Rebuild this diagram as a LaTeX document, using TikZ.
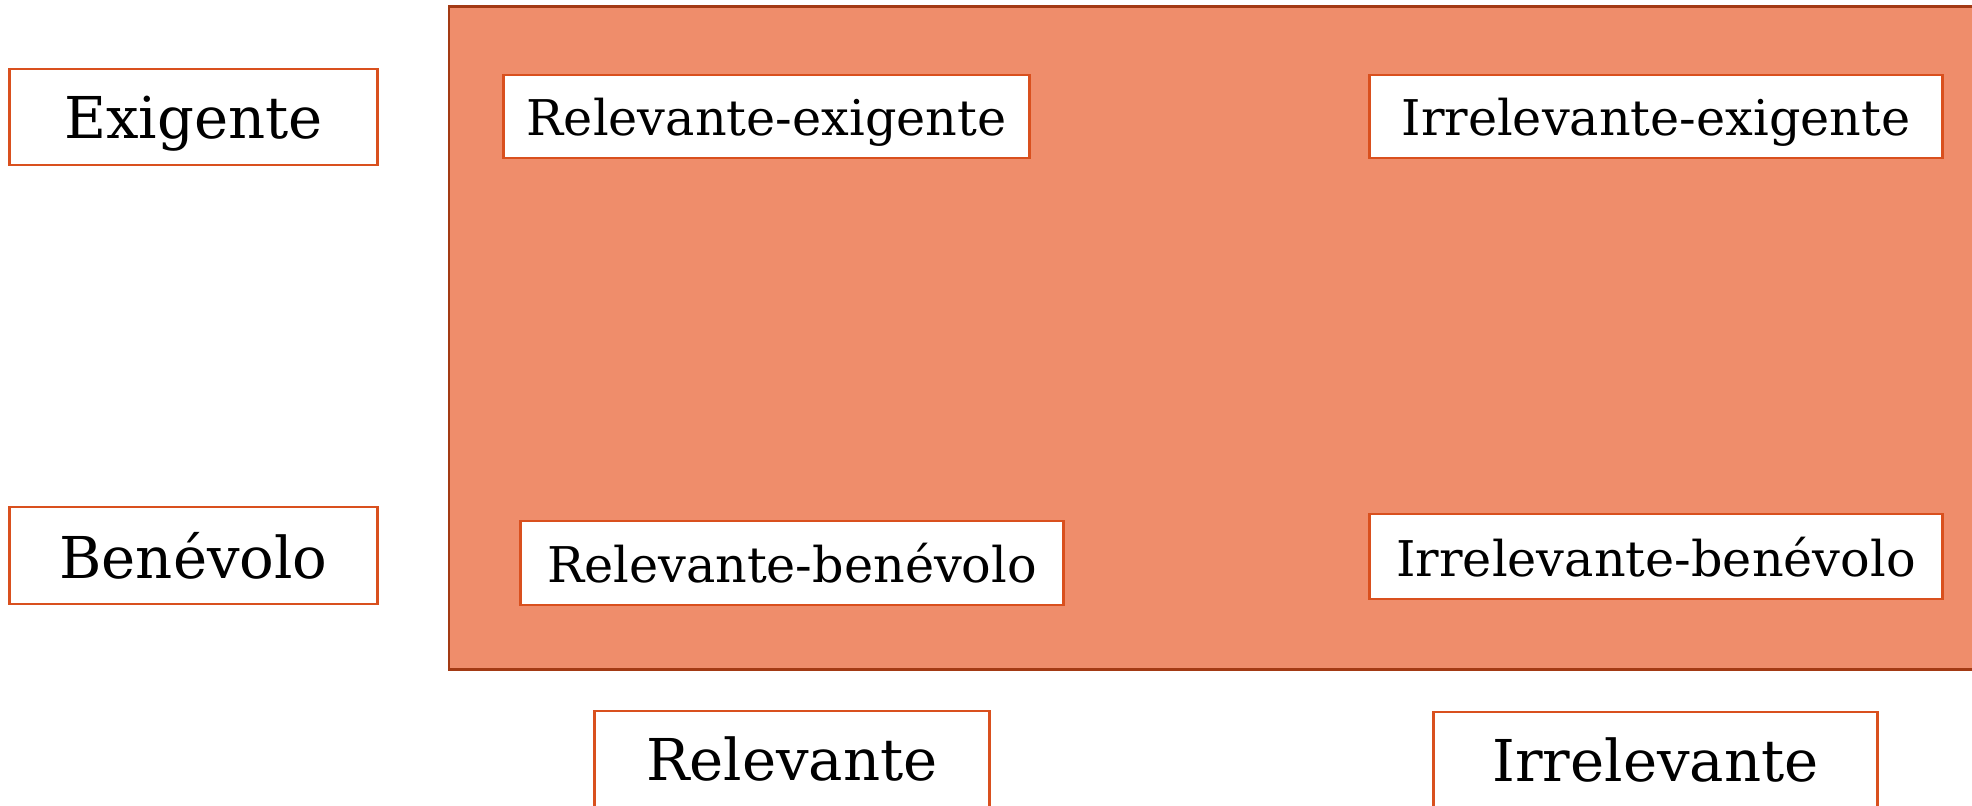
\documentclass[tikz,border=0pt]{standalone}
\usepackage{fontspec}
\setmainfont{DejaVu Serif}
\usepackage{tikz}
\definecolor{boxline}{HTML}{D9501E}
\definecolor{fieldfill}{HTML}{EF8D6B}
\definecolor{fieldline}{HTML}{A33A14}
\tikzset{
	axislabel/.style={draw=boxline, line width=0.8pt, fill=white, inner sep=0pt, text depth=0pt, font=\fontsize{16.4}{19}\selectfont},
	cellbox/.style={draw=boxline, line width=0.8pt, fill=white, inner sep=0pt, text depth=0pt, font=\fontsize{14}{17}\selectfont}
}

\begin{document}
\begin{tikzpicture}[x=0.01cm, y=-0.01cm]
			%%%%% START %%%%%
			
			\clip (0, 0) rectangle (1972, 805);
			\useasboundingbox (0, 0) rectangle (1972, 805);
			
			\draw[fill=fieldfill, draw=fieldline, line width=0.85pt] (449, 6) rectangle (2000, 669);
			
			\node[axislabel, minimum width=3.67cm, minimum height=0.96cm] (exig) at (193.5, 117) {Exigente};
			\node[axislabel, minimum width=3.67cm, minimum height=0.97cm] (bene) at (193.5, 555.5) {Benévolo};
			
			\node[cellbox, minimum width=5.25cm, minimum height=0.83cm] (relex) at (766.5, 116.5) {Relevante-exigente};
			\node[cellbox, minimum width=5.72cm, minimum height=0.83cm] (irrex) at (1656, 116.5) {Irrelevante-exigente};
			\node[cellbox, minimum width=5.42cm, minimum height=0.84cm] (relbe) at (792, 563) {Relevante-benévolo};
			\node[cellbox, minimum width=5.72cm, minimum height=0.85cm] (irrbe) at (1656, 556.5) {Irrelevante-benévolo};
			
			\node[axislabel, minimum width=3.94cm, minimum height=0.96cm] (rel) at (792, 759) {Relevante};
			\node[axislabel, minimum width=4.43cm, minimum height=0.96cm] (irr) at (1655.5, 760) {Irrelevante};
			
			%%%%% END %%%%%
\end{tikzpicture}
\end{document}
